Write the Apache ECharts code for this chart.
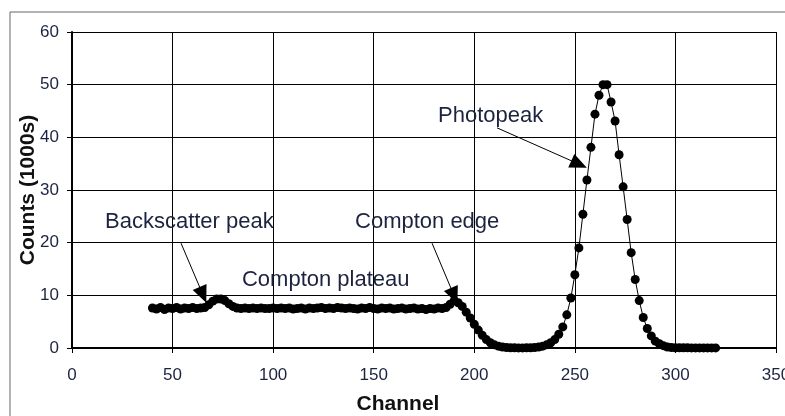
<!DOCTYPE html>
<html>
<head>
<meta charset="utf-8">
<script src="https://cdn.jsdelivr.net/npm/echarts@6/dist/echarts.min.js"></script>
<style>
html,body{margin:0;padding:0;background:#fff;}
#main{width:785px;height:416px;}
</style>
</head>
<body>
<div id="main"></div>
<script>
// channel numbers of the measured points
var channels = [
 40,42,44,46,48,50,52,54,56,58,60,62,64,
 66,68,70,72,74,76,78,80,82,
 84,86,88,90,92,94,96,98,100,102,104,106,108,110,112,114,116,118,120,122,
 124,126,128,130,132,134,136,138,140,142,144,146,148,150,152,154,156,158,160,162,
 164,166,168,170,172,174,176,178,180,182,184,
 186,188,190,192,194,196,198,200,202,204,206,208,210,212,214,216,218,220,222,224,
 226,228,230,232,234,236,238,240,242,
 244,246,248,250,252,254,256,258,260,262,264,266,268,270,272,274,276,278,280,282,
 284,286,288,290,292,294,296,298,
 300,302,304,306,308,310,312,314,316,318,320
];
// counts in 1000s
var counts = [
 7.6,7.4,7.7,7.3,7.6,7.5,7.7,7.4,7.6,7.5,7.7,7.5,7.6,
 7.7,8.2,8.9,9.3,9.3,9.0,8.4,7.9,7.6,
 7.5,7.6,7.5,7.6,7.5,7.6,7.5,7.5,7.6,7.5,
 7.6,7.5,7.6,7.4,7.5,7.6,7.4,7.6,7.5,7.6,
 7.7,7.5,7.6,7.5,7.7,7.6,7.5,7.6,7.5,7.4,
 7.6,7.5,7.7,7.5,7.4,7.6,7.5,7.6,7.4,7.5,
 7.6,7.4,7.5,7.6,7.4,7.5,7.3,7.5,7.4,7.6,7.5,
 7.7,8.3,9.0,8.6,7.9,6.8,5.7,4.5,3.4,2.4,1.6,1.0,0.6,0.35,0.2,0.1,0.05,0.03,0.02,0.02,
 0.03,0.05,0.1,0.2,0.35,0.6,1.0,1.6,2.6,
 4.0,6.3,9.5,13.9,19.0,25.4,31.9,38.1,44.4,48.0,50.0,50.0,46.7,43.1,36.7,30.6,24.4,18.1,13.0,9.0,
 5.8,3.7,2.3,1.3,0.8,0.45,0.2,0.1,
 0.05,0.04,0.03,0.03,0.02,0.02,0.02,0.02,0.02,0.02,0.02
];
var xTicks = [0,50,100,150,200,250,300,350];
var yTicks = [0,10,20,30,40,50,60];

// annotation texts and their anchor (data coords)
var noteNames = ['Backscatter peak','Compton plateau','Compton edge','Photopeak'];
var notePos = [[16.4,23.9],[84.5,12.9],[140.7,23.9],[182,44.0]];
// arrows: [start, tip] in data coords
var arrows = [
 [[54.2,19.9],[65.1,10.1]],
 [[179,19.9],[190,9.9]],
 [[211.3,41.8],[252.1,34.9]]
];

var points = [];
for(var i=0;i<channels.length;i++){
  points.push([channels[i],counts[i]]);
}
var notes = [];
for(var i=0;i<noteNames.length;i++){
  notes.push({name:noteNames[i],coord:notePos[i]});
}
var arrowData = [];
for(var i=0;i<arrows.length;i++){
  arrowData.push([{coord:arrows[i][0]},{coord:arrows[i][1]}]);
}

var txt = '#1c2340';
var myChart = echarts.init(document.getElementById('main'));
var option = {
  animation:false,
  backgroundColor:'#fff',
  textStyle:{fontFamily:'Liberation Sans, Arial, sans-serif'},
  graphic:[{
    type:'rect',
    shape:{x:10,y:12,width:800,height:420},
    style:{fill:'none',stroke:'#666',lineWidth:1},
    silent:true
  }],
  grid:{left:72,right:9,top:32,bottom:68,outerBoundsMode:'none'},
  xAxis:{
    type:'value',min:xTicks[0],max:xTicks[xTicks.length-1],interval:50,
    name:'Channel',nameLocation:'middle',nameGap:46,nameMoveOverlap:false,
    nameTextStyle:{fontSize:21,fontWeight:'bold',color:'#111',padding:[0,52,0,0]},
    axisLine:{show:true,onZero:false,lineStyle:{color:'#000',width:2}},
    axisTick:{show:true,length:5,lineStyle:{color:'#000'}},
    axisLabel:{fontSize:17,color:txt,margin:19},
    splitLine:{show:true,lineStyle:{color:'#000',width:1}}
  },
  yAxis:{
    type:'value',min:yTicks[0],max:yTicks[yTicks.length-1],interval:10,
    name:'Counts (1000s)',nameLocation:'middle',nameGap:33,nameMoveOverlap:false,
    nameTextStyle:{fontSize:21,fontWeight:'bold',color:'#111'},
    axisLine:{show:true,lineStyle:{color:'#000',width:2}},
    axisTick:{show:true,length:5,lineStyle:{color:'#000'}},
    axisLabel:{fontSize:17,color:txt,margin:13},
    splitLine:{show:true,lineStyle:{color:'#000',width:1}}
  },
  series:[{
    type:'line',
    data:points,
    symbol:'circle',
    symbolSize:9,
    showAllSymbol:true,
    itemStyle:{color:'#000'},
    lineStyle:{color:'#000',width:1},
    markLine:{
      silent:true,
      symbol:['none','triangle'],
      symbolSize:[15,17],
      label:{show:false},
      lineStyle:{color:'#000',width:1,type:'solid'},
      data:arrowData
    },
    markPoint:{
      silent:true,
      symbol:'circle',
      symbolSize:0,
      label:{show:true,position:'right',distance:0,formatter:'{b}',fontSize:22,color:txt},
      data:notes
    }
  }]
};
myChart.setOption(option);
</script>
</body>
</html>
